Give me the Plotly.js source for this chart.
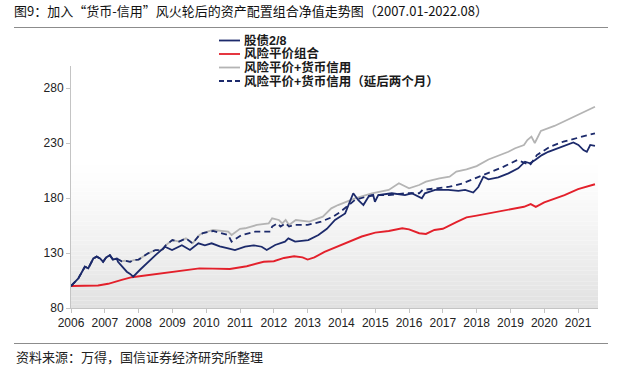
<!DOCTYPE html>
<html>
<head>
<meta charset="utf-8">
<script src="https://cdn.plot.ly/plotly-3.0.1.min.js"></script>
<style>
html,body{margin:0;padding:0;background:#fff;}
#chart{width:620px;height:366px;}
</style>
</head>
<body>
<div id="chart"></div>
<script>
// ---- data ----
const seriesNames = ["股债2/8", "风险平价组合", "风险平价+货币信用", "风险平价+货币信用（延后两个月）"];
const yearTicks = [2006, 2007, 2008, 2009, 2010, 2011, 2012, 2013, 2014, 2015, 2016, 2017, 2018, 2019, 2020, 2021];
const valueTicks = [80, 130, 180, 230, 280];

const blueX = [2006.0, 2006.22, 2006.41, 2006.51, 2006.66, 2006.76, 2006.86, 2006.95, 2007.04, 2007.15, 2007.24, 2007.35, 2007.39, 2007.45, 2007.55, 2007.65, 2007.75, 2007.84, 2008.05, 2008.28, 2008.5, 2008.78, 2008.99, 2009.28, 2009.52, 2009.77, 2009.96, 2010.16, 2010.4, 2010.65, 2010.85, 2011.15, 2011.4, 2011.64, 2011.79, 2012.04, 2012.33, 2012.43, 2012.63, 2013.02, 2013.32, 2013.57, 2013.81, 2014.11, 2014.35, 2014.5, 2014.65, 2014.8, 2014.94, 2014.99, 2015.09, 2015.49, 2015.88, 2016.08, 2016.38, 2016.47, 2016.77, 2017.16, 2017.46, 2017.66, 2017.8, 2017.9, 2018.05, 2018.2, 2018.35, 2018.64, 2018.94, 2019.23, 2019.43, 2019.58, 2019.73, 2019.93, 2020.12, 2020.42, 2020.71, 2020.86, 2021.01, 2021.16, 2021.26, 2021.36, 2021.5];
const blueY = [100, 107, 117.5, 116, 125, 126.7, 125, 122, 126, 128, 124, 125, 122, 120, 116, 113, 111, 108.5, 115, 122, 128, 135.7, 132.7, 137, 132.7, 138.8, 137, 138.8, 136, 134.3, 132.7, 135.7, 137, 135.7, 132.7, 137.3, 140.3, 143.3, 140.3, 141.8, 146.4, 152, 160, 166, 184.3, 178, 173.6, 181.2, 182.7, 176.6, 182.7, 184.3, 182.7, 184.3, 179.7, 184.3, 187.3, 187.3, 186.5, 187.3, 185.7, 185, 190, 199.4, 197, 198.8, 202.4, 207, 213, 211.5, 214.5, 219, 222, 225.2, 228.2, 230.5, 228.2, 223.6, 222, 228.2, 227.3];

const redX = [2006.0, 2006.4, 2006.8, 2007.1, 2007.3, 2007.5, 2007.8, 2008.2, 2008.8, 2009.3, 2009.8, 2010.2, 2010.7, 2011.2, 2011.7, 2012.0, 2012.3, 2012.6, 2012.85, 2013.0, 2013.2, 2013.5, 2013.8, 2014.2, 2014.6, 2015.0, 2015.4, 2015.8, 2016.0, 2016.3, 2016.5, 2016.75, 2017.0, 2017.4, 2017.7, 2018.0, 2018.5, 2019.0, 2019.4, 2019.6, 2019.75, 2020.0, 2020.2, 2020.6, 2021.0, 2021.2, 2021.5];
const redY = [100, 100.5, 100.5, 102, 103.5, 105.5, 108, 109.5, 112, 114, 116, 115.8, 115.5, 118, 122, 122.5, 125.5, 127, 126, 124, 126, 131, 135, 140, 145, 148.5, 150, 152.5, 151.5, 148, 147.3, 150.9, 152, 158, 162.4, 164, 167, 170, 172, 174.5, 172, 176, 178.2, 182.7, 188, 190, 192.5];

const grayX = [2006.0, 2006.22, 2006.41, 2006.51, 2006.66, 2006.76, 2006.86, 2006.95, 2007.04, 2007.15, 2007.24, 2007.35, 2007.5, 2007.6, 2007.75, 2007.85, 2008.0, 2008.28, 2008.5, 2008.7, 2008.8, 2009.0, 2009.2, 2009.4, 2009.6, 2009.8, 2009.9, 2010.2, 2010.65, 2010.75, 2011.0, 2011.15, 2011.5, 2011.85, 2011.95, 2012.15, 2012.25, 2012.35, 2012.45, 2012.65, 2013.05, 2013.45, 2013.7, 2013.9, 2014.4, 2014.9, 2015.4, 2015.7, 2016.0, 2016.3, 2016.5, 2016.9, 2017.2, 2017.4, 2017.7, 2018.0, 2018.35, 2018.94, 2019.14, 2019.4, 2019.5, 2019.62, 2019.72, 2019.9, 2020.3, 2020.7, 2021.0, 2021.15, 2021.5];
const grayY = [100, 107, 117.5, 116, 125, 126.7, 125, 122, 126, 128, 124, 125, 122.5, 123, 122, 123.6, 124, 129.7, 132.7, 132.7, 137, 141.8, 140.3, 143.3, 138.8, 146.4, 148, 150.9, 149.4, 146.4, 152, 152.5, 155.5, 157, 161.5, 160, 157, 160, 155.5, 160, 158.5, 163, 170.6, 173.6, 179.7, 184.3, 187.3, 193.4, 188.8, 191.8, 194.8, 197.9, 199.4, 204, 206, 209, 215, 222, 225.2, 228.2, 232.7, 235.8, 230, 241, 245.5, 251.5, 255.5, 258.5, 263];

const dashX = [2006.0, 2006.22, 2006.41, 2006.51, 2006.66, 2006.76, 2006.86, 2006.95, 2007.04, 2007.15, 2007.24, 2007.35, 2007.5, 2007.6, 2007.75, 2007.85, 2008.0, 2008.28, 2008.5, 2008.7, 2008.8, 2009.0, 2009.2, 2009.4, 2009.6, 2009.8, 2009.9, 2010.2, 2010.65, 2010.75, 2011.05, 2011.45, 2011.9, 2011.95, 2012.1, 2012.2, 2012.35, 2012.45, 2012.6, 2013.0, 2013.4, 2013.75, 2013.95, 2014.4, 2014.9, 2015.4, 2015.9, 2016.3, 2016.4, 2016.9, 2017.2, 2017.6, 2018.2, 2018.8, 2019.2, 2019.58, 2019.78, 2020.17, 2020.57, 2020.96, 2021.5];
const dashY = [100, 107, 117.5, 116, 125, 126.7, 125, 122, 126, 128, 124, 125, 122.5, 123, 122, 123.6, 124, 129.7, 132.7, 132.7, 137, 141.8, 140.3, 143.3, 138.8, 146.4, 148, 150, 146.4, 140.3, 146.4, 149.4, 149.4, 154, 157, 154, 157, 154, 155.5, 155.5, 158.5, 163, 167, 178.2, 182.7, 182.7, 184.3, 184.3, 187.3, 188.8, 190.3, 193.4, 200.9, 208.5, 214.5, 210, 219, 226.6, 231.3, 234.3, 238.8];

// ---- layout geometry (pixels) ----
const W = 620, H = 366;
const M = {l: 71, r: 22, t: 66, b: 58};
const PW = W - M.l - M.r, PH = H - M.t - M.b;
const px = x => (x - M.l) / PW;
const py = y => (H - M.b - y) / PH;

const NAVY = "#1c2a6b", RED = "#e3202b", GRAY = "#b4b4b4";
const CJK = "Noto Sans CJK SC, sans-serif";
const LEG_FONT = "Liberation Sans, Noto Sans CJK SC, sans-serif";

const traces = [
  {x: grayX, y: grayY, name: seriesNames[2], mode: "lines", line: {color: GRAY, width: 1.8}},
  {x: redX, y: redY, name: seriesNames[1], mode: "lines", line: {color: RED, width: 1.9}},
  {x: dashX, y: dashY, name: seriesNames[3], mode: "lines", line: {color: NAVY, width: 1.8, dash: "6px,4px"}},
  {x: blueX, y: blueY, name: seriesNames[0], mode: "lines", line: {color: NAVY, width: 1.8}}
];

const shapes = [];
// gradient background of the plot area (white at the top, light gray at the bottom)
const nBands = 40, gradTop = 0.62;
for (let i = 0; i < nBands; i++) {
  const t = (i + 0.5) / nBands;
  const c = Math.round(255 - 30 * Math.pow(t, 1.3));
  shapes.push({
    type: "rect", xref: "paper", yref: "paper", layer: "below",
    x0: 0, x1: 1,
    y0: gradTop * (1 - (i + 1) / nBands), y1: gradTop * (1 - i / nBands),
    fillcolor: `rgb(${c},${c},${c})`, line: {width: 0}
  });
}
shapes.push(
  {type: "line", xref: "paper", yref: "paper", x0: px(14), x1: px(608), y0: py(27.5), y1: py(27.5), line: {color: "#8c8c8c", width: 1}},
  {type: "line", xref: "paper", yref: "paper", x0: px(14), x1: px(608), y0: py(343.5), y1: py(343.5), line: {color: "#8c8c8c", width: 1}}
);
const annotations = [
  {text: "资料来源：万得，国信证券经济研究所整理", xref: "paper", yref: "paper", x: px(14), y: py(356), xanchor: "left", yanchor: "middle", showarrow: false, font: {family: CJK, size: 13, color: "#222"}}
];

// compact custom legend, as in the reference
const legendRows = [
  {name: seriesNames[0], color: NAVY, dash: false, y: 40.5},
  {name: seriesNames[1], color: RED, dash: false, y: 54},
  {name: seriesNames[2], color: GRAY, dash: false, y: 67.5},
  {name: seriesNames[3], color: NAVY, dash: true, y: 81}
];
legendRows.forEach(r => {
  shapes.push({type: "line", xref: "paper", yref: "paper", x0: px(219), x1: px(240), y0: py(r.y), y1: py(r.y), line: {color: r.color, width: 1.8, dash: r.dash ? "5px,3px" : "solid"}});
  annotations.push({text: "<b>" + r.name + "</b>", xref: "paper", yref: "paper", x: px(242), y: py(r.y), xanchor: "left", yanchor: "middle", showarrow: false, font: {family: LEG_FONT, size: 12.5, color: "#1a1a1a"}});
});

const layout = {
  width: W, height: H,
  margin: M,
  paper_bgcolor: "#ffffff",
  plot_bgcolor: "#ffffff",
  showlegend: false,
  title: {
    text: "图9：加入“货币-信用”风火轮后的资产配置组合净值走势图（2007.01-2022.08）",
    xref: "container", yref: "container",
    x: 14 / W, xanchor: "left", y: 1 - 11 / H, yanchor: "middle",
    font: {family: CJK, size: 13, color: "#111"}
  },
  xaxis: {
    range: [2006, 2021.59],
    tickvals: yearTicks, ticktext: yearTicks.map(String),
    showgrid: false, zeroline: false,
    showline: true, linecolor: "#c4c4c4", linewidth: 1,
    ticks: "outside", ticklen: 4, tickcolor: "#c4c4c4",
    tickfont: {family: "Liberation Sans, Arial, sans-serif", size: 12, color: "#222"}
  },
  yaxis: {
    range: [80, 300],
    tickvals: valueTicks,
    showgrid: false, zeroline: false,
    showline: true, linecolor: "#c4c4c4", linewidth: 1,
    ticks: "outside", ticklen: 4, tickcolor: "#c4c4c4",
    tickfont: {family: "Liberation Sans, Arial, sans-serif", size: 12, color: "#222"}
  },
  shapes: shapes,
  annotations: annotations
};

Plotly.newPlot("chart", traces, layout, {staticPlot: true, displayModeBar: false});
</script>
</body>
</html>
